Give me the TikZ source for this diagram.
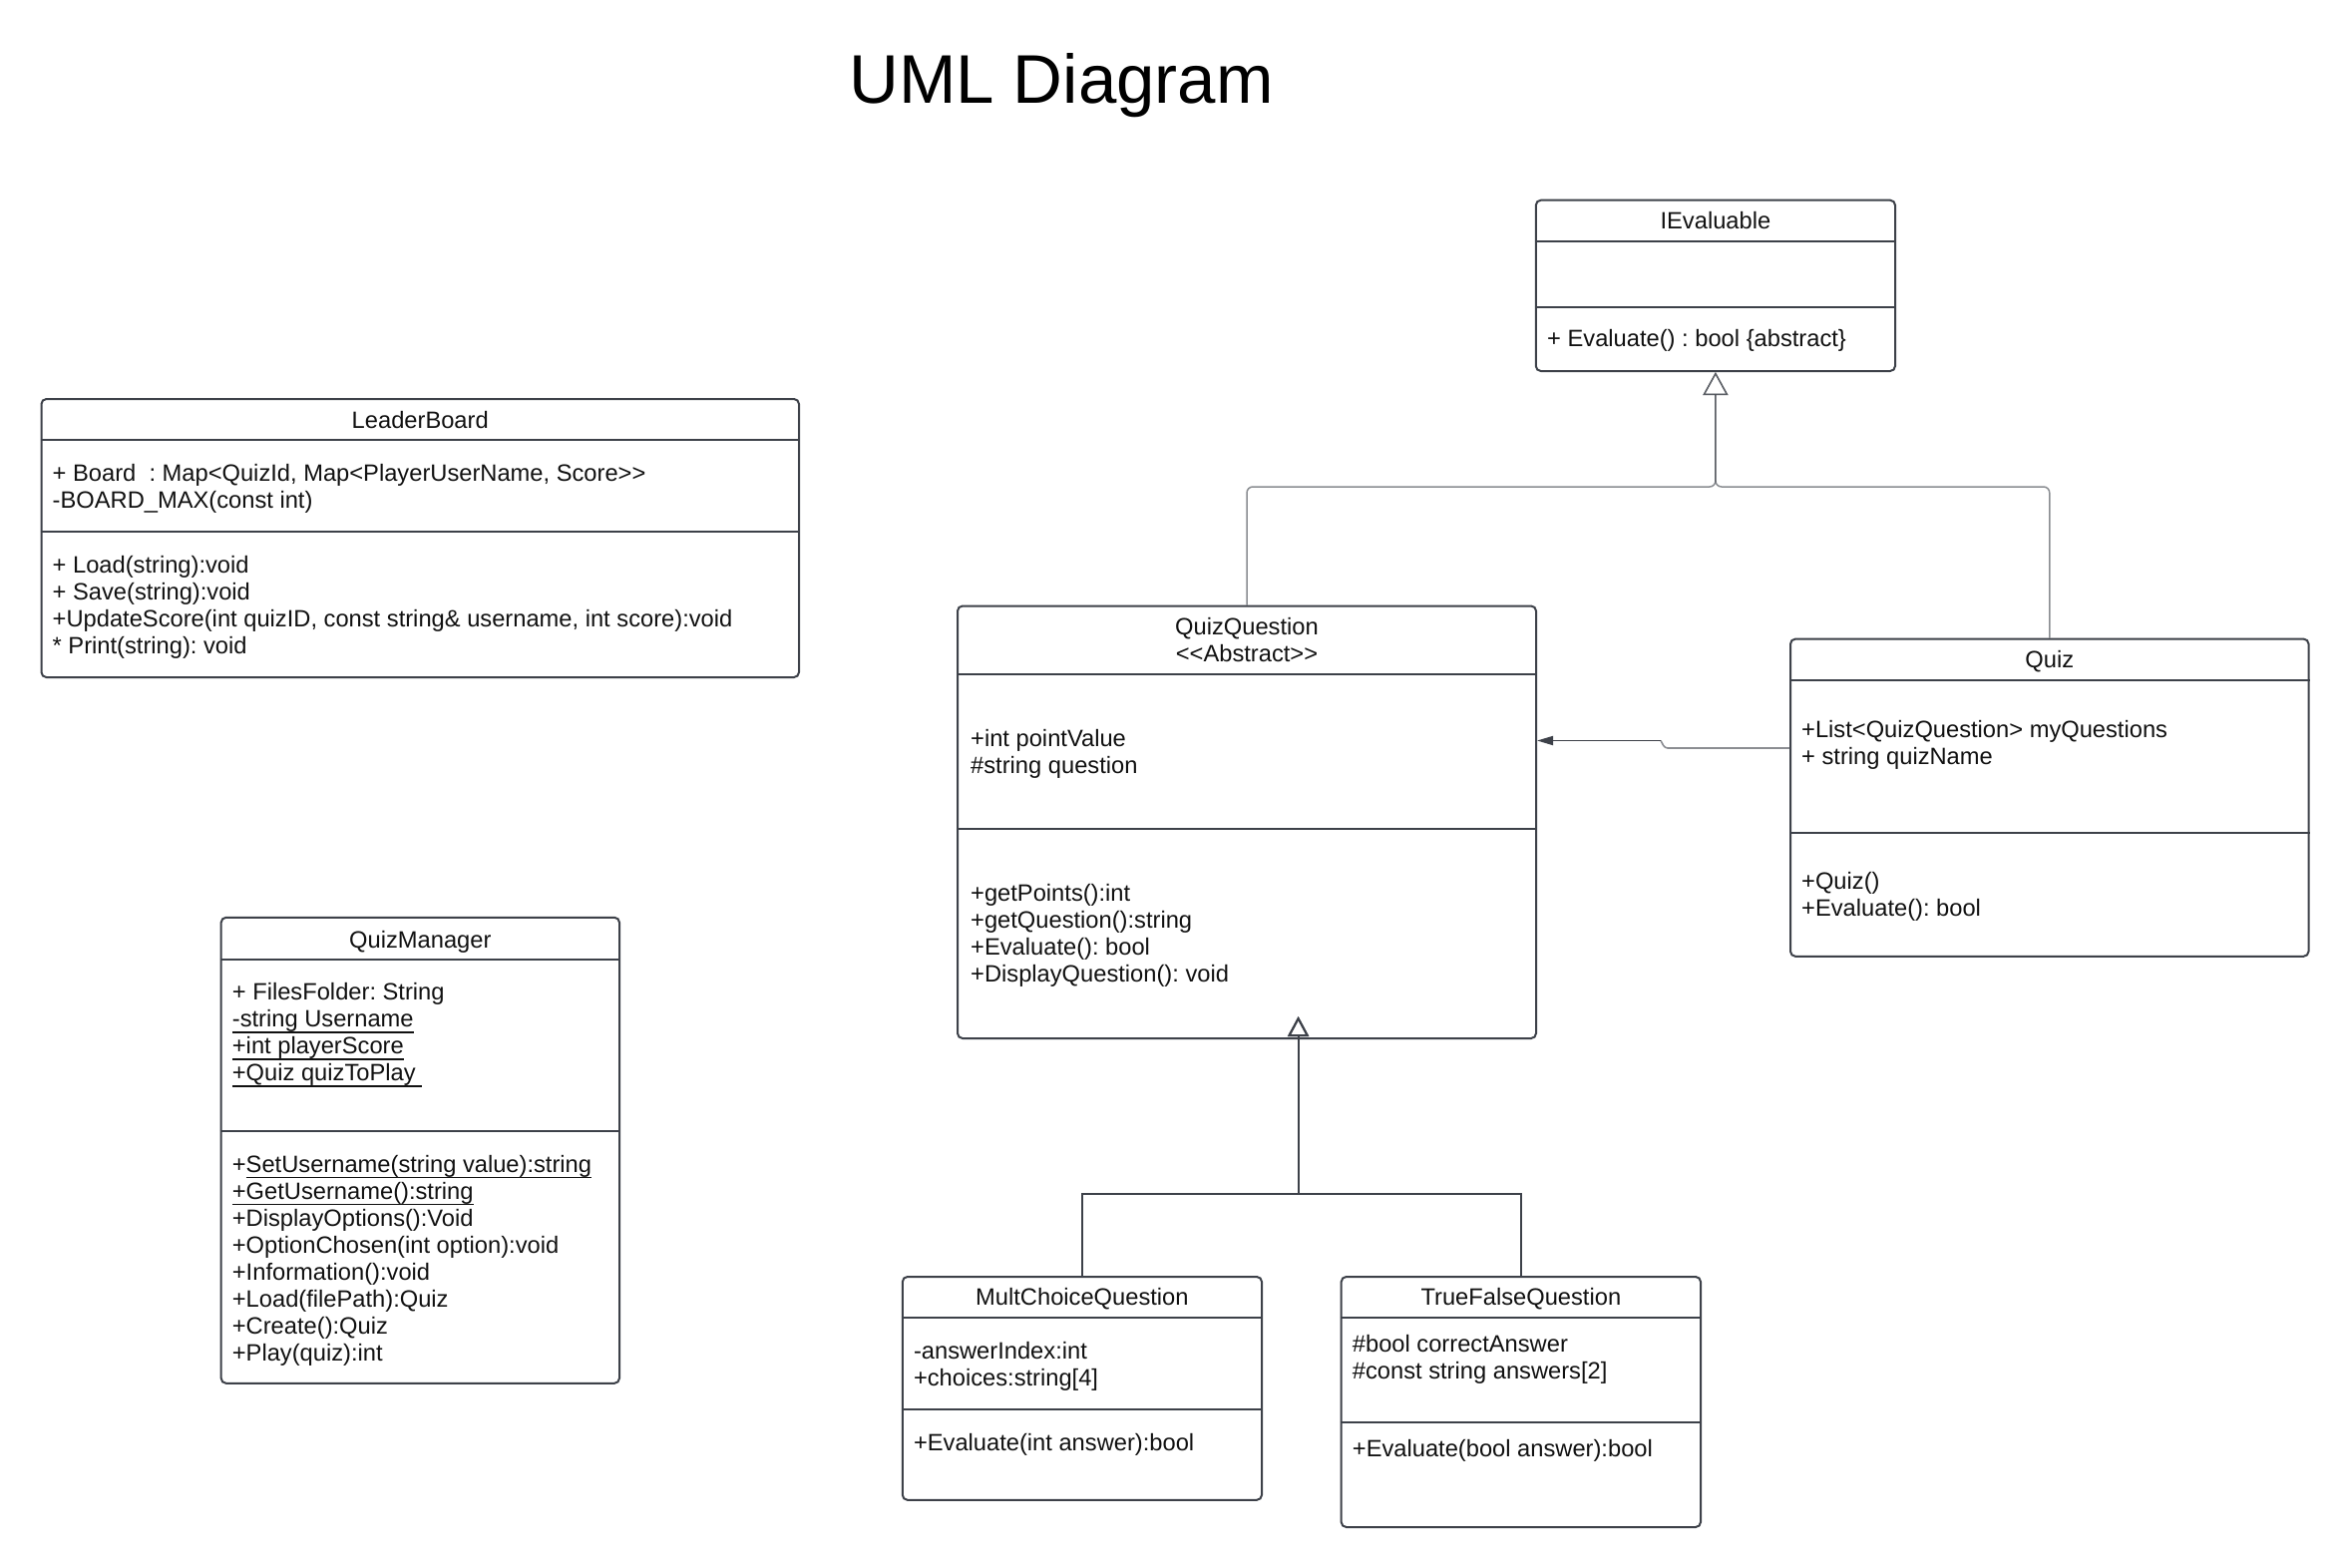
\documentclass[tikz,border=0pt]{standalone}
\usepackage{fontspec}
\setmainfont{Liberation Sans}
\usetikzlibrary{arrows.meta}
\frenchspacing

\definecolor{edge}{HTML}{3D4149}
\definecolor{ink}{HTML}{111111}

% underline drawn as a rule just below the baseline
\newcommand\undl[1]{\setbox0=\hbox{#1}\rlap{\rule[-6.3pt]{\wd0}{1.6pt}}\box0}
% one left-aligned text row per item, 27pt apart
\newcommand\classrows[4]{%
  \foreach \rowtext [count=\rowi] in {#4}
    {\node[row] (#1-\rowi) at (#2,{#3+27*(\rowi-1)}) {\rowtext};}}

\begin{document}
\begin{tikzpicture}[x=1pt,y=-1pt,
  classbox/.style={draw=edge, line width=2pt, rounded corners=5pt, inner sep=0pt,
    anchor=north west, fill=white},
  divider/.style={draw=edge, line width=2pt},
  row/.style={anchor=west, inner sep=0pt, text height=17pt, text depth=0pt,
    text=ink, font=\fontsize{23.7}{27}\selectfont},
  head/.style={row, anchor=center},
  genup/.style={draw=edge, draw opacity=0.6, line width=1.5pt, rounded corners=6pt,
    -{Triangle[open, length=23pt, width=25pt]}},
  gendown/.style={draw=edge, line width=2pt,
    -{Triangle[open, length=20pt, width=21pt]}},
  assoclight/.style={draw=edge!60, line width=1.6pt, rounded corners=3pt},
  assocdark/.style={draw=edge, line width=1.8pt,
    -{Triangle[length=16pt, width=9pt]}}]

\fill[white] (0,0) rectangle (2354,1572);
\useasboundingbox (0,0) rectangle (2354,1572);

\node[font=\fontsize{69}{80}\selectfont, anchor=base, inner sep=0pt, text=black]
  (title) at (1064,103) {UML Diagram};

% LeaderBoard
\node[classbox, minimum width=759.5pt, minimum height=279pt] (lb) at (40.5,399) {};
\draw[divider] (lb.west |- 0,441) -- (lb.east |- 0,441);
\draw[divider] (lb.west |- 0,533) -- (lb.east |- 0,533);
\node[head] (lb-name) at (lb.north |- 0,420.5) {LeaderBoard};
\classrows{lb-a}{52.5}{474}{{+ Board\ \ : Map<QuizId, Map<PlayerUserName, Score>{}>},-BOARD\_MAX(const int)}
\classrows{lb-m}{52.5}{566}{+ Load(string):void,+ Save(string):void,{+UpdateScore(int quizID, const string\& username, int score):void},* Print(string): void}

% QuizManager
\node[classbox, minimum width=399.3pt, minimum height=467pt] (qm) at (220.7,918.8) {};
\draw[divider] (qm.west |- 0,962) -- (qm.east |- 0,962);
\draw[divider] (qm.west |- 0,1134) -- (qm.east |- 0,1134);
\node[head] (qm-name) at (qm.north |- 0,942) {QuizManager};
\classrows{qm-a}{232.7}{994}{+ FilesFolder: String,\undl{-string Username},\undl{+int playerScore},\undl{+Quiz quizToPlay\ }}
\classrows{qm-m}{232.7}{1166.5}{+\undl{SetUsername(string value):string},\undl{+GetUsername():string},+DisplayOptions():Void,+OptionChosen(int option):void,+Information():void,+Load(filePath):Quiz,+Create():Quiz,+Play(quiz):int}

% IEvaluable
\node[classbox, minimum width=360.2pt, minimum height=171.3pt] (ie) at (1538.8,199.7) {};
\draw[divider] (ie.west |- 0,242) -- (ie.east |- 0,242);
\draw[divider] (ie.west |- 0,307.8) -- (ie.east |- 0,307.8);
\node[head] (ie-name) at (ie.north |- 0,220.7) {IEvaluable};
\classrows{ie-m}{1551}{339.3}{+ Evaluate() : bool \{abstract\}}

% QuizQuestion
\node[classbox, minimum width=580pt, minimum height=433.5pt] (qq) at (959,606.5) {};
\draw[divider] (qq.west |- 0,676) -- (qq.east |- 0,676);
\draw[divider] (qq.west |- 0,831) -- (qq.east |- 0,831);
\node[head] (qq-name) at (qq.north |- 0,628) {QuizQuestion};
\node[head] (qq-stereo) at (qq.north |- 0,655) {<{}<Abstract>{}>};
\classrows{qq-a}{973}{740}{+int pointValue,\#string question}
\classrows{qq-m}{973}{895}{+getPoints():int,+getQuestion():string,+Evaluate(): bool,+DisplayQuestion(): void}

% Quiz
\node[classbox, minimum width=519.5pt, minimum height=318.2pt] (qz) at (1794,639.6) {};
\draw[divider] (qz.west |- 0,681.6) -- (qz.east |- 0,681.6);
\draw[divider] (qz.west |- 0,834.7) -- (qz.east |- 0,834.7);
\node[head] (qz-name) at (qz.north |- 0,660.6) {Quiz};
\classrows{qz-a}{1806}{731}{+List<QuizQuestion> myQuestions,+ string quizName}
\classrows{qz-m}{1806}{882.8}{+Quiz(),+Evaluate(): bool}

% MultChoiceQuestion
\node[classbox, minimum width=360.2pt, minimum height=223.8pt] (mc) at (903.8,1279) {};
\draw[divider] (mc.west |- 0,1321) -- (mc.east |- 0,1321);
\draw[divider] (mc.west |- 0,1412.7) -- (mc.east |- 0,1412.7);
\node[head] (mc-name) at (mc.north |- 0,1300) {MultChoiceQuestion};
\classrows{mc-a}{915.8}{1354}{-answerIndex:int,+choices:string[4]}
\classrows{mc-m}{915.8}{1446}{+Evaluate(int answer):bool}

% TrueFalseQuestion
\node[classbox, minimum width=360.3pt, minimum height=251pt] (tf) at (1343.7,1279) {};
\draw[divider] (tf.west |- 0,1321) -- (tf.east |- 0,1321);
\draw[divider] (tf.west |- 0,1426) -- (tf.east |- 0,1426);
\node[head] (tf-name) at (tf.north |- 0,1300) {TrueFalseQuestion};
\classrows{tf-a}{1355.7}{1346.7}{\#bool correctAnswer,\#const string answers[2]}
\classrows{tf-m}{1355.7}{1452}{+Evaluate(bool answer):bool}

% generalisation: QuizQuestion and Quiz realise IEvaluable
\coordinate (hub) at (ie.south |- 0,488);
\draw[genup] (qq.north) |- (hub) -- (ie.south);
\draw[genup] (qz.north) |- (hub) -- (ie.south);

% generalisation: the two question kinds extend QuizQuestion
\coordinate (hub2) at (1301.6,1196.5);
\coordinate (qqtip) at (hub2 |- 0,1019);
\draw[gendown] (mc.north) |- (hub2) -- (qqtip);
\draw[gendown] (tf.north) |- (hub2) -- (qqtip);

% association: Quiz holds QuizQuestion objects
\coordinate (jogA) at (1669,750);
\coordinate (jogB) at (1665,742.5);
\draw[assoclight] (qz.west |- 0,750) -- (jogA) -- (jogB);
\draw[assocdark] (jogB) -- (qq.east |- 0,742.5);

\end{tikzpicture}
\end{document}
